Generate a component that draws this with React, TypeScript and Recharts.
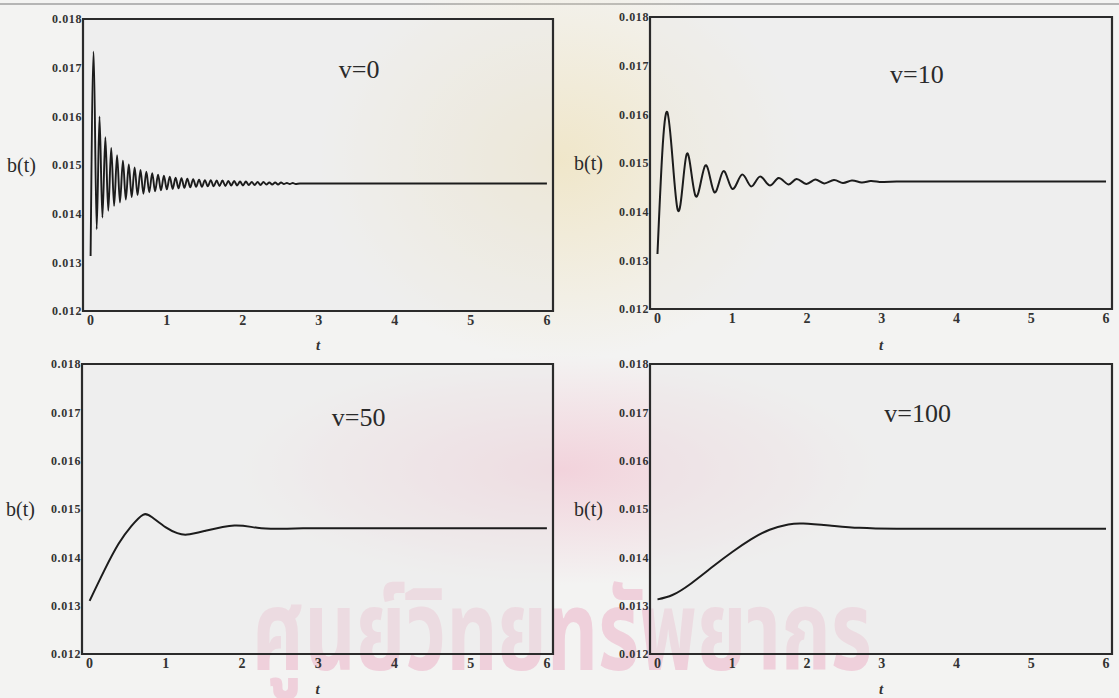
import React from "react"
import {
  LineChart,
  Line,
  XAxis,
  YAxis,
  ReferenceArea,
  ReferenceDot,
} from "recharts"

// time values (t) and b(t)
const tV0 = [
  0, 0.04, 0.08, 0.117, 0.155, 0.194, 0.232, 0.271, 0.309, 0.348, 0.386, 0.425, 0.463, 0.502, 0.54,
  0.579, 0.617, 0.656, 0.694, 0.733, 0.771, 0.81, 0.848, 0.887, 0.925, 0.964, 1.002, 1.041, 1.079,
  1.118, 1.156, 1.195, 1.233, 1.272, 1.31, 1.349, 1.387, 1.426, 1.464, 1.503, 1.541, 1.58, 1.618,
  1.657, 1.695, 1.734, 1.772, 1.811, 1.849, 1.888, 1.926, 1.965, 2.003, 2.042, 2.08, 2.119, 2.157,
  2.196, 2.234, 2.273, 2.311, 2.35, 2.388, 2.427, 2.465, 2.504, 2.542, 2.581, 2.619, 2.658, 2.696,
  2.75, 3, 4, 5, 6,
]
const bV0 = [
  0.01313, 0.01733, 0.01368, 0.016, 0.01392, 0.01557, 0.01406, 0.01535, 0.01416, 0.0152, 0.01423,
  0.01509, 0.01429, 0.01501, 0.01434, 0.01495, 0.01438, 0.0149, 0.01441, 0.01486, 0.01444, 0.01483,
  0.01446, 0.0148, 0.01448, 0.01478, 0.0145, 0.01476, 0.01451, 0.01474, 0.01452, 0.01473, 0.01453,
  0.01472, 0.01454, 0.01471, 0.01455, 0.0147, 0.01455, 0.01469, 0.01456, 0.01469, 0.01456, 0.01468,
  0.01457, 0.01468, 0.01457, 0.01467, 0.01458, 0.01467, 0.01458, 0.01466, 0.01458, 0.01466, 0.01459,
  0.01465, 0.01459, 0.01465, 0.01459, 0.01465, 0.0146, 0.01464, 0.0146, 0.01464, 0.0146, 0.01464,
  0.01461, 0.01463, 0.01461, 0.01463, 0.01461, 0.01462, 0.01462, 0.01462, 0.01462, 0.01462,
]

const tV10 = [
  0, 0.13, 0.27, 0.39, 0.51, 0.64, 0.76, 0.88, 1.0, 1.13, 1.25, 1.37, 1.5, 1.62, 1.75, 1.86, 1.99,
  2.11, 2.23, 2.36, 2.48, 2.6, 2.73, 2.85, 2.97, 3.2, 4, 5, 6,
]
const bV10 = [
  0.01313, 0.01605, 0.01404, 0.01518, 0.01432, 0.01495, 0.0144, 0.01483, 0.01447, 0.01476, 0.01452,
  0.01472, 0.01454, 0.01469, 0.01456, 0.01467, 0.01457, 0.01466, 0.01458, 0.01465, 0.01459, 0.01464,
  0.0146, 0.01463, 0.01461, 0.01462, 0.01462, 0.01462, 0.01462,
]

const tV50 = [0, 0.19, 0.38, 0.55, 0.7, 0.82, 1.0, 1.15, 1.28, 1.52, 1.9, 2.2, 2.5, 2.8, 3.5, 4.5, 6]
const bV50 = [
  0.0131, 0.01372, 0.01428, 0.01465, 0.01488, 0.01483, 0.01462, 0.0145, 0.01447, 0.01455, 0.01466,
  0.01461, 0.01459, 0.0146, 0.0146, 0.0146, 0.0146,
]

const tV100 = [0, 0.2, 0.45, 0.75, 1.0, 1.25, 1.5, 1.75, 1.95, 2.3, 2.7, 3.2, 4, 5, 6]
const bV100 = [
  0.01313, 0.01322, 0.01346, 0.01382, 0.01411, 0.01437, 0.01457, 0.01468, 0.0147, 0.01466, 0.01461,
  0.01459, 0.01459, 0.01459, 0.01459,
]

const xTicks = [0, 1, 2, 3, 4, 5, 6]
const yTicks = [0.012, 0.013, 0.014, 0.015, 0.016, 0.017, 0.018]
const panelLabels = ["v=0", "v=10", "v=50", "v=100"]

const X_DOMAIN: [number, number] = [-0.1, 6.08]
const Y_DOMAIN: [number, number] = [0.012, 0.018]

const toRows = (t: number[], b: number[]) => t.map((x, i) => ({ t: x, b: b[i] }))

const serif = "'Liberation Serif', 'DejaVu Serif', serif"

interface PanelProps {
  data: { t: number; b: number }[]
  label: string
  labelAt: [number, number]
  left: number
  top: number
  width: number
  height: number
  margin: { top: number; right: number; bottom: number; left: number }
  xAxisHeight: number
  curve?: "monotone" | "natural"
  lineWidth?: number
}

function Panel({
  data,
  label,
  labelAt,
  left,
  top,
  width,
  height,
  margin,
  xAxisHeight,
  curve = "natural",
  lineWidth = 2,
}: PanelProps) {
  return (
    <div style={{ position: "absolute", left, top, width, height }}>
      <LineChart width={width} height={height} data={data} margin={margin} style={{ overflow: "visible" }}>
        <XAxis
          dataKey="t"
          type="number"
          domain={X_DOMAIN}
          ticks={xTicks}
          interval={0}
          allowDataOverflow
          axisLine={false}
          tickLine={false}
          tickSize={0}
          tickMargin={4}
          height={xAxisHeight}
          tick={{ fontFamily: serif, fontWeight: "bold", fontSize: 14, fill: "#333" }}
          label={{
            value: "t",
            position: "insideBottom",
            offset: 4,
            style: { fontFamily: serif, fontStyle: "italic", fontWeight: "bold", fontSize: 15, fill: "#333" },
          }}
        />
        <YAxis
          type="number"
          domain={Y_DOMAIN}
          ticks={yTicks}
          interval={0}
          allowDataOverflow
          width={76}
          axisLine={false}
          tickLine={false}
          tickSize={0}
          tickMargin={1}
          tickFormatter={(v: number) => v.toFixed(3)}
          tick={{ fontFamily: serif, fontWeight: "bold", fontSize: 12, fill: "#333", letterSpacing: 0.6 }}
          label={{
            value: "b(t)",
            position: "insideLeft",
            angle: 0,
            offset: 0,
            style: { fontFamily: serif, fontSize: 20, fill: "#2a2a2a", textAnchor: "start" },
          }}
        />
        <ReferenceArea
          x1={X_DOMAIN[0]}
          x2={X_DOMAIN[1]}
          y1={Y_DOMAIN[0]}
          y2={Y_DOMAIN[1]}
          fill="#e9e9e9"
          fillOpacity={0.45}
          stroke="#2b2b2b"
          strokeWidth={2.2}
        />
        <ReferenceDot
          x={labelAt[0]}
          y={labelAt[1]}
          r={0}
          fill="none"
          stroke="none"
          label={{
            value: label,
            position: "center",
            style: { fontFamily: serif, fontSize: 26, fill: "#2a2a2a" },
          }}
        />
        <Line
          type={curve}
          dataKey="b"
          stroke="#1c1c1c"
          strokeWidth={lineWidth}
          dot={false}
          activeDot={false}
          isAnimationActive={false}
        />
      </LineChart>
    </div>
  )
}

function Watermark() {
  return (
    <svg
      width={1119}
      height={698}
      style={{ position: "absolute", left: 0, top: 0 }}
    >
      <defs>
        <radialGradient id="pinkGlow" cx="50%" cy="50%" r="50%">
          <stop offset="0%" stopColor="#f2cfd9" stopOpacity={0.9} />
          <stop offset="100%" stopColor="#f2cfd9" stopOpacity={0} />
        </radialGradient>
        <radialGradient id="goldGlow" cx="50%" cy="50%" r="50%">
          <stop offset="0%" stopColor="#efe3bf" stopOpacity={0.8} />
          <stop offset="100%" stopColor="#efe3bf" stopOpacity={0} />
        </radialGradient>
      </defs>
      <line x1={0} x2={1119} y1={4} y2={4} stroke="#b5b5b5" strokeWidth={2} />
      <ellipse cx={560} cy={160} rx={240} ry={200} fill="url(#goldGlow)" />
      <ellipse cx={560} cy={470} rx={320} ry={115} fill="url(#pinkGlow)" />
      <text
        x={252}
        y={670}
        textLength={620}
        lengthAdjust="spacingAndGlyphs"
        style={{
          fontFamily: "'Noto Sans Thai', 'Noto Sans', 'DejaVu Sans', sans-serif",
          fontSize: 112,
          fontWeight: "bold",
          fill: "#efd0db",
        }}
      >
        ศูนย์วิทยทรัพยากร
      </text>
    </svg>
  )
}

export default function App() {
  return (
    <div
      style={{
        position: "absolute",
        left: 0,
        top: 0,
        width: 1119,
        height: 698,
        background: "#f3f3f2",
        overflow: "hidden",
      }}
    >
      <Watermark />
      <Panel
        data={toRows(tV0, bV0)}
        label={panelLabels[0]}
        labelAt={[3.53, 0.01697]}
        left={0}
        top={0}
        width={575}
        height={354}
        margin={{ top: 19, right: 22, bottom: 0, left: 7 }}
        xAxisHeight={43}
        curve="monotone"
        lineWidth={1.9}
      />
      <Panel
        data={toRows(tV10, bV10)}
        label={panelLabels[1]}
        labelAt={[3.47, 0.01683]}
        left={565}
        top={0}
        width={554}
        height={354}
        margin={{ top: 17, right: 7, bottom: 0, left: 9 }}
        xAxisHeight={45}
      />
      <Panel
        data={toRows(tV50, bV50)}
        label={panelLabels[2]}
        labelAt={[3.53, 0.01691]}
        left={0}
        top={350}
        width={575}
        height={348}
        margin={{ top: 14, right: 22, bottom: 0, left: 6 }}
        xAxisHeight={44}
      />
      <Panel
        data={toRows(tV100, bV100)}
        label={panelLabels[3]}
        labelAt={[3.48, 0.017]}
        left={565}
        top={350}
        width={554}
        height={348}
        margin={{ top: 14, right: 7, bottom: 0, left: 9 }}
        xAxisHeight={44}
      />
    </div>
  )
}
